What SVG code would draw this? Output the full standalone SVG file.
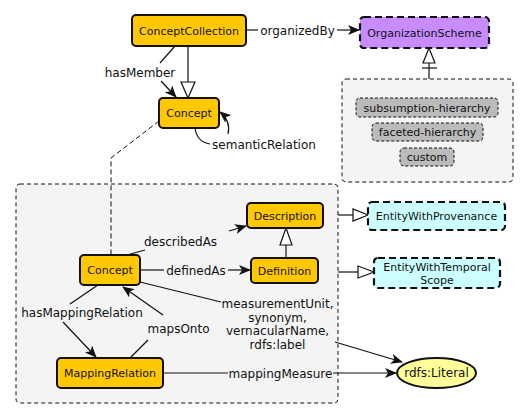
<svg xmlns="http://www.w3.org/2000/svg" width="529" height="419" viewBox="0 0 529 419">
<style>
.node{fill:#ffc800;stroke:#111;stroke-width:2}
.grp{fill:#f4f4f4;stroke:#111;stroke-width:1;stroke-dasharray:4,3}
.item{fill:#bbbbbb;stroke:#111;stroke-width:1;stroke-dasharray:3,2}
.ext{stroke:#111;stroke-width:2.2;stroke-dasharray:7,4}
.nt{font-family:"DejaVu Sans",sans-serif;font-size:11px;fill:#111;text-anchor:middle}
.lt{font-family:"DejaVu Sans",sans-serif;font-size:12px;fill:#111;text-anchor:middle}
.e{fill:none;stroke:#111;stroke-width:1.2}
.d{fill:none;stroke:#111;stroke-width:1;stroke-dasharray:5,3}
.tri{fill:#fff;stroke:#111;stroke-width:1.2}
</style>
<defs>
<marker id="arr" viewBox="0 0 12 10" refX="11" refY="5" markerWidth="12" markerHeight="10" markerUnits="userSpaceOnUse" orient="auto">
<path d="M0,0 L12,5 L0,10 L3,5 z" fill="#111"/>
</marker>
</defs>

<g id="group-schemes">
<rect class="grp" x="342" y="79" width="171" height="103" rx="4"/>
</g>
<g id="group-concept">
<rect class="grp" x="16" y="184" width="322" height="219" rx="4"/>
</g>

<g id="connectors">
<!-- organizedBy -->
<path class="e" d="M246,30 L258,30"/>
<path class="e" d="M337,30 L359,30" marker-end="url(#arr)"/>
<text class="lt" x="297.5" y="34.5">organizedBy</text>
<!-- ConceptCollection subclass Concept -->
<path class="e" d="M188,46 L188,82"/>
<path class="tri" d="M188,98 L181,82 L195,82 z"/>
<!-- hasMember -->
<path class="e" d="M175,46 L160,63"/>
<path class="e" d="M161,81 L176,97" marker-end="url(#arr)"/>
<text class="lt" x="140" y="76.5">hasMember</text>
<!-- semanticRelation -->
<path class="e" d="M195,128 Q197,142 210,144"/>
<path class="e" d="M228,134 Q231,121 220,112" marker-end="url(#arr)"/>
<text class="lt" x="264" y="148.5">semanticRelation</text>
<!-- dashed link concept to concept -->
<path class="d" d="M159,121 L111,158 L111,255"/>
<!-- schemes subclass OrganizationScheme -->
<path class="e" d="M429,79 L429,63"/>
<path class="e" d="M422,68 L437,68"/>
<path class="tri" d="M429,48 L423,63 L435,63 z"/>
<!-- describedAs -->
<path class="e" d="M127,255 L145,250"/>
<path class="e" d="M229,231 L246,226" marker-end="url(#arr)"/>
<text class="lt" x="180.5" y="246">describedAs</text>
<!-- definedAs -->
<path class="e" d="M140,270 L164,270"/>
<path class="e" d="M228,270 L250,270" marker-end="url(#arr)"/>
<text class="lt" x="196" y="274.5">definedAs</text>
<!-- Definition subclass Description -->
<path class="e" d="M286,258 L286,245"/>
<path class="tri" d="M286,228 L280,245 L292,245 z"/>
<!-- measurementUnit etc -->
<path class="e" d="M140,282 L221,302"/>
<path class="e" d="M335,342 L402,362" marker-end="url(#arr)"/>
<text class="lt" x="277.5" y="308">measurementUnit,</text>
<text class="lt" x="277.5" y="321.5">synonym,</text>
<text class="lt" x="277.5" y="335">vernacularName,</text>
<text class="lt" x="277.5" y="348.5">rdfs:label</text>
<!-- hasMappingRelation -->
<path class="e" d="M98,285 L70,304"/>
<path class="e" d="M63,322 L96,357" marker-end="url(#arr)"/>
<text class="lt" x="82" y="316.5">hasMappingRelation</text>
<!-- mapsOnto -->
<path class="e" d="M130,358 L148,340"/>
<path class="e" d="M163,315 L123,287" marker-end="url(#arr)"/>
<text class="lt" x="178.5" y="332.5">mapsOnto</text>
<!-- mappingMeasure -->
<path class="e" d="M163,373 L228,373"/>
<path class="e" d="M333,373 L396,373" marker-end="url(#arr)"/>
<text class="lt" x="280.5" y="377.5">mappingMeasure</text>
<!-- group subclass EntityWithProvenance -->
<path class="e" d="M338,215 L353,215"/>
<path class="tri" d="M368,215 L353,209 L353,221 z"/>
<!-- group subclass EntityWithTemporalScope -->
<path class="e" d="M338,272 L358,272"/>
<path class="tri" d="M374,272 L358,266 L358,278 z"/>
</g>

<g id="node-ConceptCollection">
<rect class="node" x="132" y="15" width="114" height="31" rx="4"/>
<text class="nt" x="189" y="34.5">ConceptCollection</text>
</g>
<g id="node-Concept-top">
<rect class="node" x="159" y="98" width="60" height="30" rx="4"/>
<text class="nt" x="189" y="117">Concept</text>
</g>
<g id="node-OrganizationScheme">
<rect class="ext" fill="#c98cff" x="360" y="17" width="129" height="31" rx="4"/>
<text class="nt" x="424.5" y="36.5">OrganizationScheme</text>
</g>
<g id="node-subsumption-hierarchy">
<rect class="item" x="356" y="98" width="142" height="19" rx="4"/>
<text class="nt" x="427" y="111.5">subsumption-hierarchy</text>
</g>
<g id="node-faceted-hierarchy">
<rect class="item" x="372" y="123" width="111" height="18" rx="4"/>
<text class="nt" x="427.5" y="136">faceted-hierarchy</text>
</g>
<g id="node-custom">
<rect class="item" x="400" y="148" width="54" height="18" rx="4"/>
<text class="nt" x="427" y="161">custom</text>
</g>
<g id="node-Description">
<rect class="node" x="247" y="203" width="76" height="25" rx="4"/>
<text class="nt" x="285" y="219.5">Description</text>
</g>
<g id="node-Definition">
<rect class="node" x="251" y="258" width="67" height="25" rx="4"/>
<text class="nt" x="284.5" y="274.5">Definition</text>
</g>
<g id="node-Concept">
<rect class="node" x="80" y="255" width="60" height="30" rx="4"/>
<text class="nt" x="110" y="274">Concept</text>
</g>
<g id="node-MappingRelation">
<rect class="node" x="57" y="358" width="106" height="30" rx="4"/>
<text class="nt" x="110" y="377">MappingRelation</text>
</g>
<g id="node-EntityWithProvenance">
<rect class="ext" fill="#ccffff" x="368" y="202" width="137" height="28" rx="4"/>
<text class="nt" x="436.5" y="220">EntityWithProvenance</text>
</g>
<g id="node-EntityWithTemporalScope">
<rect class="ext" fill="#ccffff" x="374" y="258" width="126" height="30" rx="4"/>
<text class="nt" x="437" y="271">EntityWithTemporal</text>
<text class="nt" x="437" y="284">Scope</text>
</g>
<g id="node-rdfs-Literal">
<ellipse cx="436.5" cy="373" rx="39.5" ry="15" fill="#ffff99" stroke="#111" stroke-width="2"/>
<text class="lt" x="436.5" y="377">rdfs:Literal</text>
</g>
</svg>
